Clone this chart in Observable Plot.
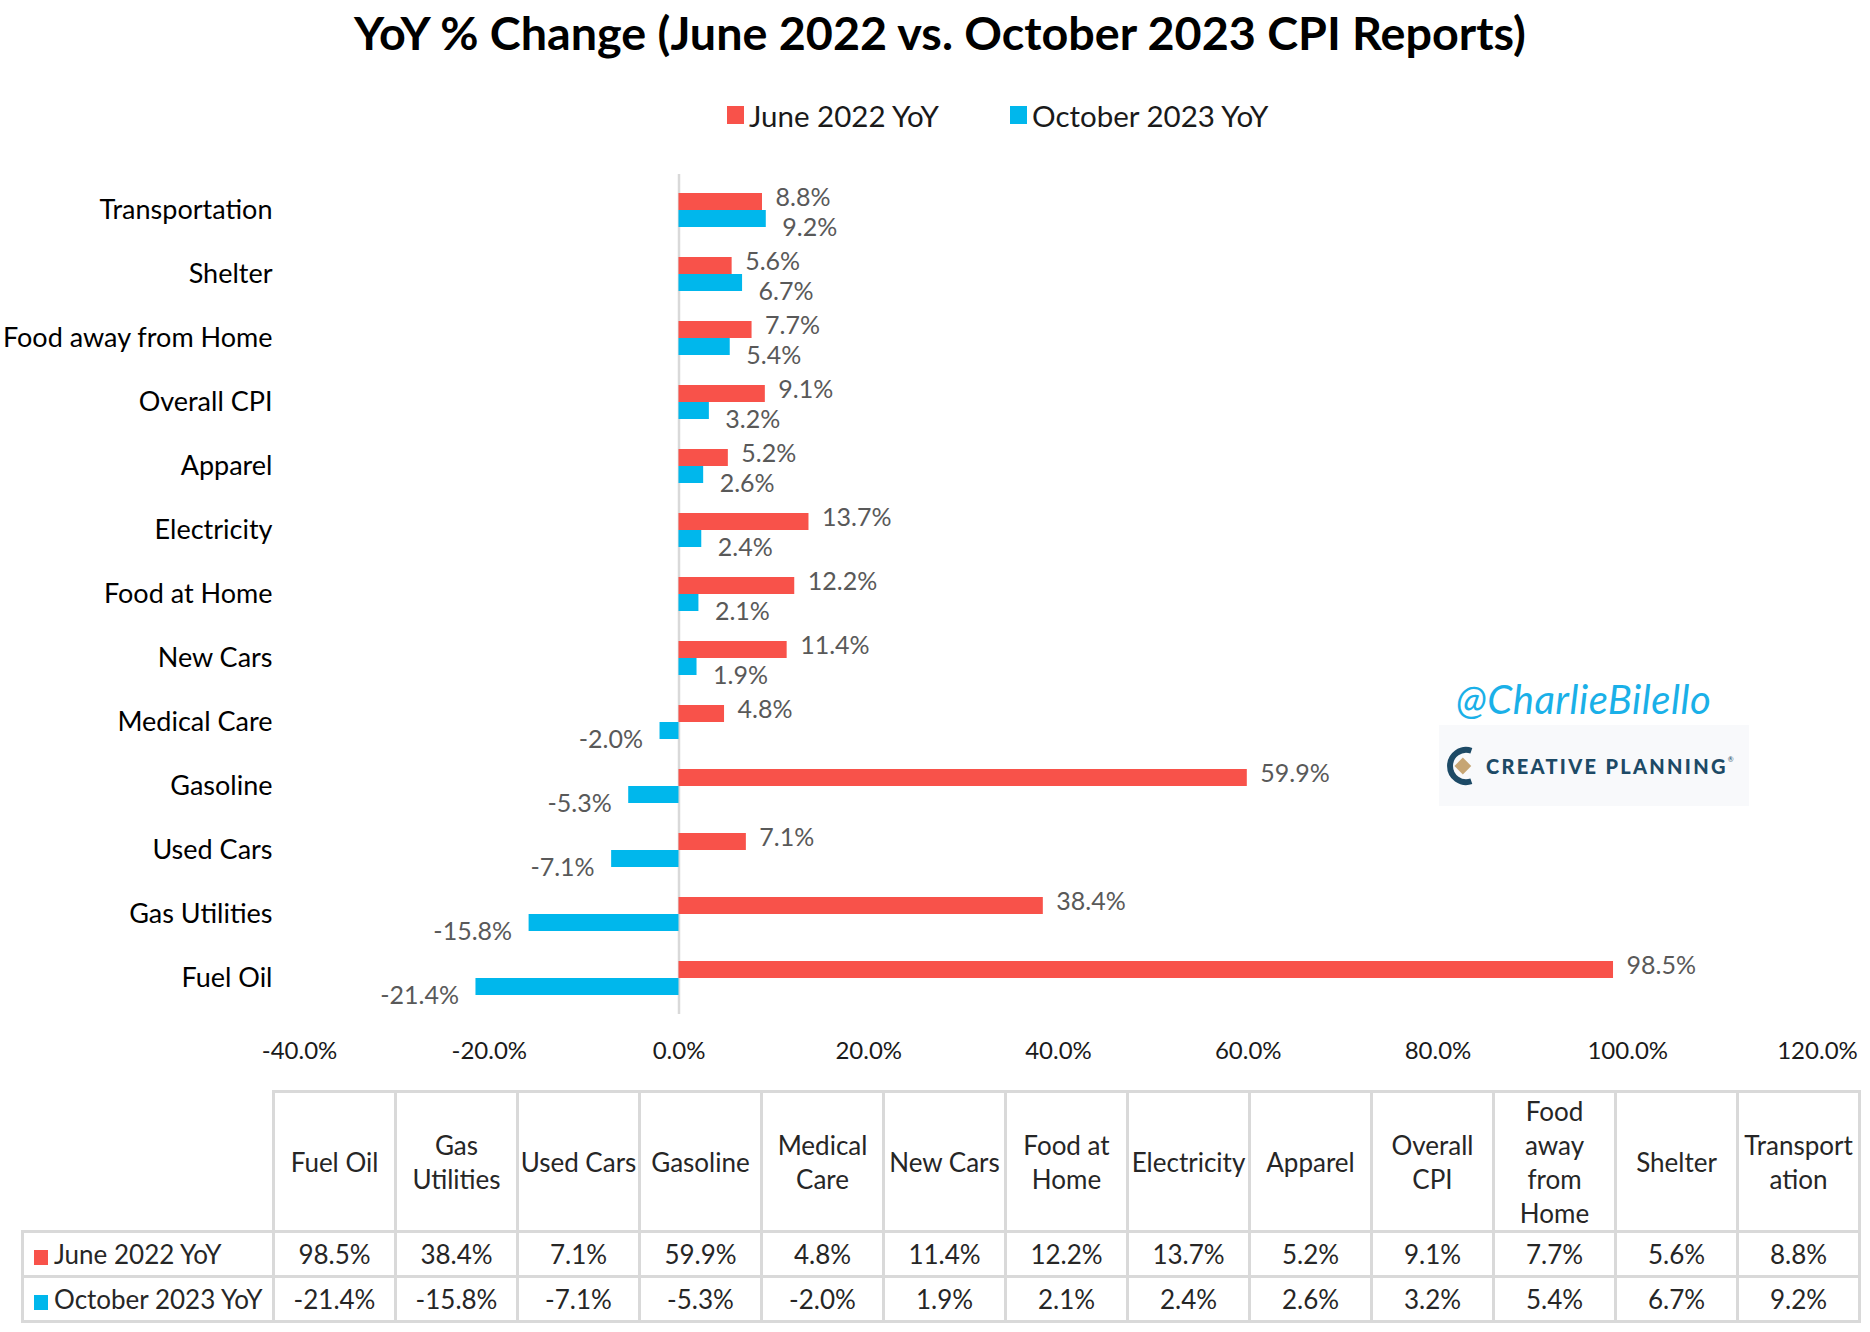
<!DOCTYPE html>
<html>
<head>
<meta charset="utf-8">
<script src="https://cdn.jsdelivr.net/npm/d3@7"></script>
<script src="https://cdn.jsdelivr.net/npm/@observablehq/plot@0.6"></script>
<style>
  html, body { margin: 0; padding: 0; background: #fff; }
  #page { position: relative; width: 1870px; height: 1332px; overflow: hidden; background: #fff; font-family: Lato, "Open Sans", sans-serif; }
  #title { position: absolute; top: 0; left: 5px; width: 1870px; height: 64px; line-height: 64px; text-align: center;
           font-family: "Lato", sans-serif; font-weight: 700; font-size: 46.7px; color: #000; }
  #legend { position: absolute; top: 95px; left: 727px; height: 40px; display: flex; align-items: center; font-size: 29.5px; color: #1a1a1a; }
  .lg-item { display: flex; align-items: center; }
  .lg-sw { width: 17px; height: 18px; margin-right: 5px; }
  #chart { position: absolute; top: 150px; left: 0; }
  #table { position: absolute; top: 1090px; left: 21px; border-collapse: collapse; table-layout: fixed; width: 1837px; color: #262626; font-size: 26px; }
  #table td, #table th { border: 3px solid #d9d9d9; text-align: center; vertical-align: middle; padding: 0; font-weight: 400; }
  #table th { line-height: 34px; white-space: pre-line; }
  #table th.corner { border-top: none; border-left: none; }
  #table tr.hdr { height: 140px; }
  #table tr.r1 { height: 45px; }
  #table tr.r2 { height: 45px; }
  #table td.rowlab { text-align: left; padding-left: 10px; white-space: nowrap; }
  .tsw { display: inline-block; width: 14px; height: 15px; margin-right: 6px; vertical-align: -1px; }
  #handle { position: absolute; left: 1456px; top: 675px; font-size: 40px; font-style: italic; color: #1ab0e8; font-family: "Lato", sans-serif; letter-spacing: 0.5px; white-space: nowrap; }
  #logo { position: absolute; left: 1439px; top: 725px; width: 310px; height: 81px; background: #f8f9fb; display: flex; align-items: center; white-space: nowrap; }
  #logo .txt { font-family: "Lato", sans-serif; font-weight: 900; font-size: 20px; letter-spacing: 2.3px; color: #1d4a66; margin-left: 7px; }
</style>
</head>
<body>
<div id="page">
  <div id="title"></div>
  <div id="legend"></div>
  <div id="chart"></div>
  <div id="handle">@CharlieBilello</div>
  <div id="logo">
    <svg width="34" height="50" viewBox="0 0 40 50" style="margin-left:6px;flex:none">
      <path d="M31 7 A19 19 0 1 0 31 43" stroke="#1d4a66" stroke-width="7" fill="none"/>
      <rect x="14" y="18" width="14" height="14" fill="#c6a574" transform="rotate(45 21 25)"/>
    </svg>
    <span class="txt">CREATIVE PLANNING</span><span style="font-size:7px;color:#1d4a66;align-self:flex-start;margin-top:30px">®</span>
  </div>
  <table id="table"></table>
</div>
<script>
// ---------- data ----------
const titleText = "YoY % Change (June 2022 vs. October 2023 CPI Reports)";
const seriesNames = ["June 2022 YoY", "October 2023 YoY"];
const seriesColors = ["#f8524a", "#00b7ec"];
// categories in the order of the data table (bottom to top in the bar chart)
const categories = ["Fuel Oil", "Gas Utilities", "Used Cars", "Gasoline", "Medical Care", "New Cars",
  "Food at Home", "Electricity", "Apparel", "Overall CPI", "Food away from Home", "Shelter", "Transportation"];
const tableHeaderLabels = ["Fuel Oil", "Gas\nUtilities", "Used Cars", "Gasoline", "Medical\nCare", "New Cars",
  "Food at\nHome", "Electricity", "Apparel", "Overall\nCPI", "Food\naway\nfrom\nHome", "Shelter", "Transport\nation"];
const june2022 = [98.5, 38.4, 7.1, 59.9, 4.8, 11.4, 12.2, 13.7, 5.2, 9.1, 7.7, 5.6, 8.8];
const october2023 = [-21.4, -15.8, -7.1, -5.3, -2.0, 1.9, 2.1, 2.4, 2.6, 3.2, 5.4, 6.7, 9.2];
const xTicks = [-40, -20, 0, 20, 40, 60, 80, 100, 120];

// ---------- helpers ----------
const fmt = v => v.toFixed(1) + "%";
const rows = categories.map((c, i) => ({cat: c, june: june2022[i], oct: october2023[i]}));

// title
document.getElementById("title").textContent = titleText;

// legend
const legend = document.getElementById("legend");
seriesNames.forEach((name, i) => {
  const item = document.createElement("div");
  item.className = "lg-item";
  if (i === 0) item.style.marginRight = "71px";
  item.innerHTML = `<span class="lg-sw" style="background:${seriesColors[i]}"></span><span>${name}</span>`;
  legend.appendChild(item);
});

// chart
const labelFill = "#595959";
const chart = Plot.plot({
  width: 1870,
  height: 930,
  marginTop: 24,
  marginBottom: 66,
  marginLeft: 299,
  marginRight: 53,
  style: {fontFamily: "Lato, 'Open Sans', sans-serif", background: "transparent", overflow: "visible"},
  x: {domain: [xTicks[0], xTicks[xTicks.length - 1]]},
  y: {domain: categories.slice().reverse(), padding: 0},
  marks: [
    Plot.axisX({ticks: xTicks, tickFormat: fmt, tickSize: 0, tickPadding: 27, fontSize: 24, color: "#1a1a1a", label: null}),
    Plot.axisY({tickSize: 0, tickPadding: 27, fontSize: 27, color: "#000", label: null}),
    Plot.ruleX([0], {stroke: "#d9d9d9", strokeWidth: 2.5}),
    Plot.barX(rows, {x: "june", y: "cat", fill: seriesColors[0], insetTop: 15, insetBottom: 32}),
    Plot.barX(rows, {x: "oct", y: "cat", fill: seriesColors[1], insetTop: 32, insetBottom: 15}),
    Plot.text(rows, {x: "june", y: "cat", text: d => fmt(d.june), dx: 13, dy: -13, textAnchor: "start", fill: labelFill, fontSize: 25}),
    Plot.text(rows.filter(d => d.oct >= 0), {x: "oct", y: "cat", text: d => fmt(d.oct), dx: 16, dy: 17, textAnchor: "start", fill: labelFill, fontSize: 25}),
    Plot.text(rows.filter(d => d.oct < 0), {x: "oct", y: "cat", text: d => fmt(d.oct), dx: -17, dy: 17, textAnchor: "end", fill: labelFill, fontSize: 25})
  ]
});
document.getElementById("chart").appendChild(chart);

// data table
const table = document.getElementById("table");
let html = `<colgroup><col style="width:251px">${categories.map(() => '<col style="width:122px">').join("")}</colgroup>`;
html += `<tr class="hdr"><th class="corner"></th>${tableHeaderLabels.map(h => `<th>${h}</th>`).join("")}</tr>`;
const seriesVals = [june2022, october2023];
seriesNames.forEach((name, s) => {
  html += `<tr class="r${s + 1}"><td class="rowlab"><span class="tsw" style="background:${seriesColors[s]}"></span>${name}</td>` +
    seriesVals[s].map(v => `<td>${fmt(v)}</td>`).join("") + `</tr>`;
});
table.innerHTML = html;
</script>
</body>
</html>
